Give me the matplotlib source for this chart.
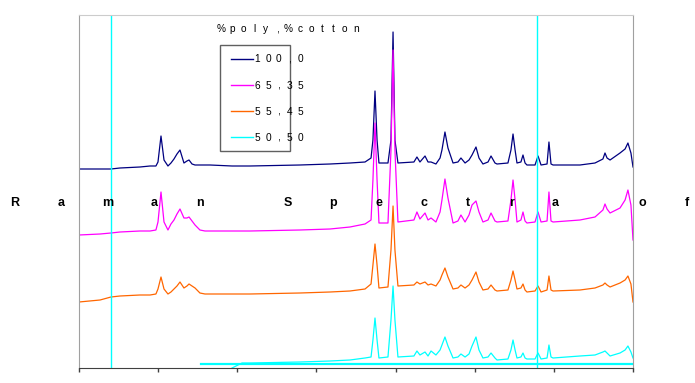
import numpy as np
import matplotlib
matplotlib.use("Agg")
import matplotlib.pyplot as plt
from matplotlib.lines import Line2D
from matplotlib.patches import Rectangle

plt.rcParams['font.family'] = ['Liberation Sans', 'DejaVu Sans']

W, H = 695, 383
nan = np.nan

# Raman shift (cm-1) of the points
shift = [3600, 3467, 3398, 3341, 3215, 3151, 3114, 3101, 3082, 3063,
         3038, 3019, 3000, 2981, 2962, 2937, 2918, 2905, 2886, 2867,
         2836, 2804, 2772, 2633, 2570, 2520, 2204, 2014, 1888, 1793,
         1755, 1743, 1730, 1717, 1705, 1648, 1629, 1616, 1604, 1585,
         1484, 1465, 1446, 1414, 1395, 1376, 1345, 1319, 1307, 1288,
         1269, 1237, 1206, 1187, 1161, 1136, 1117, 1092, 1073, 1048,
         1016, 997, 972, 959, 890, 871, 858, 845, 833, 808,
         795, 782, 770, 719, 700, 681, 643, 631, 618, 605,
         435, 340, 290, 277, 264, 245, 182, 150, 132, 113, 100]

poly100 = [199, 199, 199, 200, 201, 202, 202, 206, 232, 208,
           202, 205, 209, 214, 218, 205, 207, 208, 204, 203,
           203, 203, 203, 202, 202, 202, 203, 204, 205, 206,
           210, 228, 277, 228, 205, 205, 228, 336, 228, 205,
           206, 211, 206, 212, 206, 206, 204, 210, 218, 236,
           220, 205, 206, 210, 205, 208, 213, 221, 210, 204,
           206, 212, 205, 204, 205, 218, 234, 218, 205, 206,
           213, 205, 203, 203, 212, 203, 204, 226, 204, 203,
           203, 205, 209, 215, 210, 208, 215, 219, 225, 215, 201]

poly65 = [133, 134, 135, 136, 137, 137, 138, 146, 176, 146,
          138, 144, 148, 154, 159, 150, 150, 151, 147, 143,
          138, 137, 137, 137, 137, 137, 138, 139, 141, 144,
          148, 188, 245, 188, 145, 145, 218, 318, 218, 146,
          148, 156, 149, 155, 148, 150, 146, 156, 168, 189,
          170, 145, 147, 153, 146, 153, 163, 167, 156, 146,
          148, 155, 147, 146, 147, 168, 188, 168, 146, 148,
          156, 147, 145, 146, 156, 146, 147, 176, 147, 146,
          148, 151, 158, 164, 159, 155, 160, 168, 178, 163, 128]

poly55 = [66, 68, 71, 72, 73, 73, 74, 79, 91, 79,
          74, 76, 79, 82, 86, 80, 82, 84, 82, 80,
          75, 74, 74, 74, 74, 74, 75, 76, 77, 79,
          84, 103, 124, 103, 80, 81, 118, 162, 118, 82,
          83, 86, 84, 86, 83, 84, 82, 88, 93, 100,
          91, 79, 80, 83, 80, 83, 88, 96, 86, 78,
          79, 83, 78, 77, 78, 88, 97, 88, 79, 80,
          84, 78, 76, 77, 82, 76, 78, 92, 78, 77,
          78, 80, 83, 85, 83, 81, 85, 88, 92, 84, 66]

poly50 = [nan] * 23 + [0, 5, 5, 6, 7, 8, 10,
          11, 28, 50, 28, 10, 11, 48, 82, 48, 11,
          12, 17, 13, 16, 12, 17, 13, 18, 23, 31,
          22, 10, 11, 14, 11, 14, 22, 31, 18, 10,
          11, 15, 10, 8, 9, 18, 28, 18, 10, 11,
          15, 10, 9, 9, 15, 9, 10, 23, 11, 10,
          12, 13, 16, 17, 15, 12, 15, 18, 22, 16, 10]

# stray flat segment and vertical lines of the 50,50 series
flat50_shift = [2829, 100]
flat50 = [4.5, 4.5]
vlines50 = [3398, 705]

labels = ['1 0 0 , 0', '6 5 , 3 5', '5 5 , 4 5', '5 0 , 5 0']
colors = ['#000080', '#FF00FF', '#FF6600', '#00FFFF']
series = [poly100, poly65, poly55, poly50]


def fx(x):
    return x / W


def fy(y):
    return 1 - y / H


fig = plt.figure(figsize=(W / 100, H / 100), dpi=100)
ax = fig.add_axes([fx(79), fy(368), (633 - 79) / W, (368 - 15) / H])

for vals, c in zip(series, colors):
    ax.plot(shift, np.array(vals, dtype=float), color=c, lw=0.9)

ax.plot(flat50_shift, flat50, color=colors[3], lw=1.6)
for v in vlines50:
    ax.axvline(v, color=colors[3], lw=1.0)

ax.set_xlim(3600, 100)
ax.set_ylim(0, 353)
ax.set_xticks(np.arange(3600, 99, -500))
ax.set_yticks([])
ax.tick_params(axis='x', direction='out', length=3, width=1,
               color='#404040', labelbottom=False)
for side in ['left', 'right']:
    ax.spines[side].set_color('#A0A0A0')
ax.spines['top'].set_color('#CCCCCC')
ax.spines['bottom'].set_color('#404040')


def put_chars(chars, xs, y, **kw):
    for ch, x in zip(chars, xs):
        fig.text(fx(x), fy(y), ch, ha='center', va='baseline', **kw)


# title spread over the chart, one letter at a time
title_x = [15, 61, 108, 154, 200, 288, 333, 379, 424, 468, 512, 555, 642, 687]
put_chars('RamanSpectraof', title_x, 206, fontsize=9, fontweight='bold')

# legend
put_chars('%poly,%cotton', [221 + i * 11.25 for i in range(13)], 32.3,
          fontsize=7.3)
fig.add_artist(Rectangle((fx(219.5), fy(151)), (290 - 219.5) / W,
                         (151 - 45) / H, transform=fig.transFigure,
                         fill=False, edgecolor='#606060', lw=1.0))
for i, (lab, c) in enumerate(zip(labels, colors)):
    yc = 58.7 + i * 26.1
    fig.add_artist(Line2D([fx(231), fx(253)], [fy(yc), fy(yc)],
                          transform=fig.transFigure, color=c, lw=1.0))
    chars = lab.replace(' ', '')
    put_chars(chars, [257.3 + k * 10.7 for k in range(len(chars))],
              yc + 3.7, fontsize=7.3)

fig.savefig('out.png', dpi=100)
